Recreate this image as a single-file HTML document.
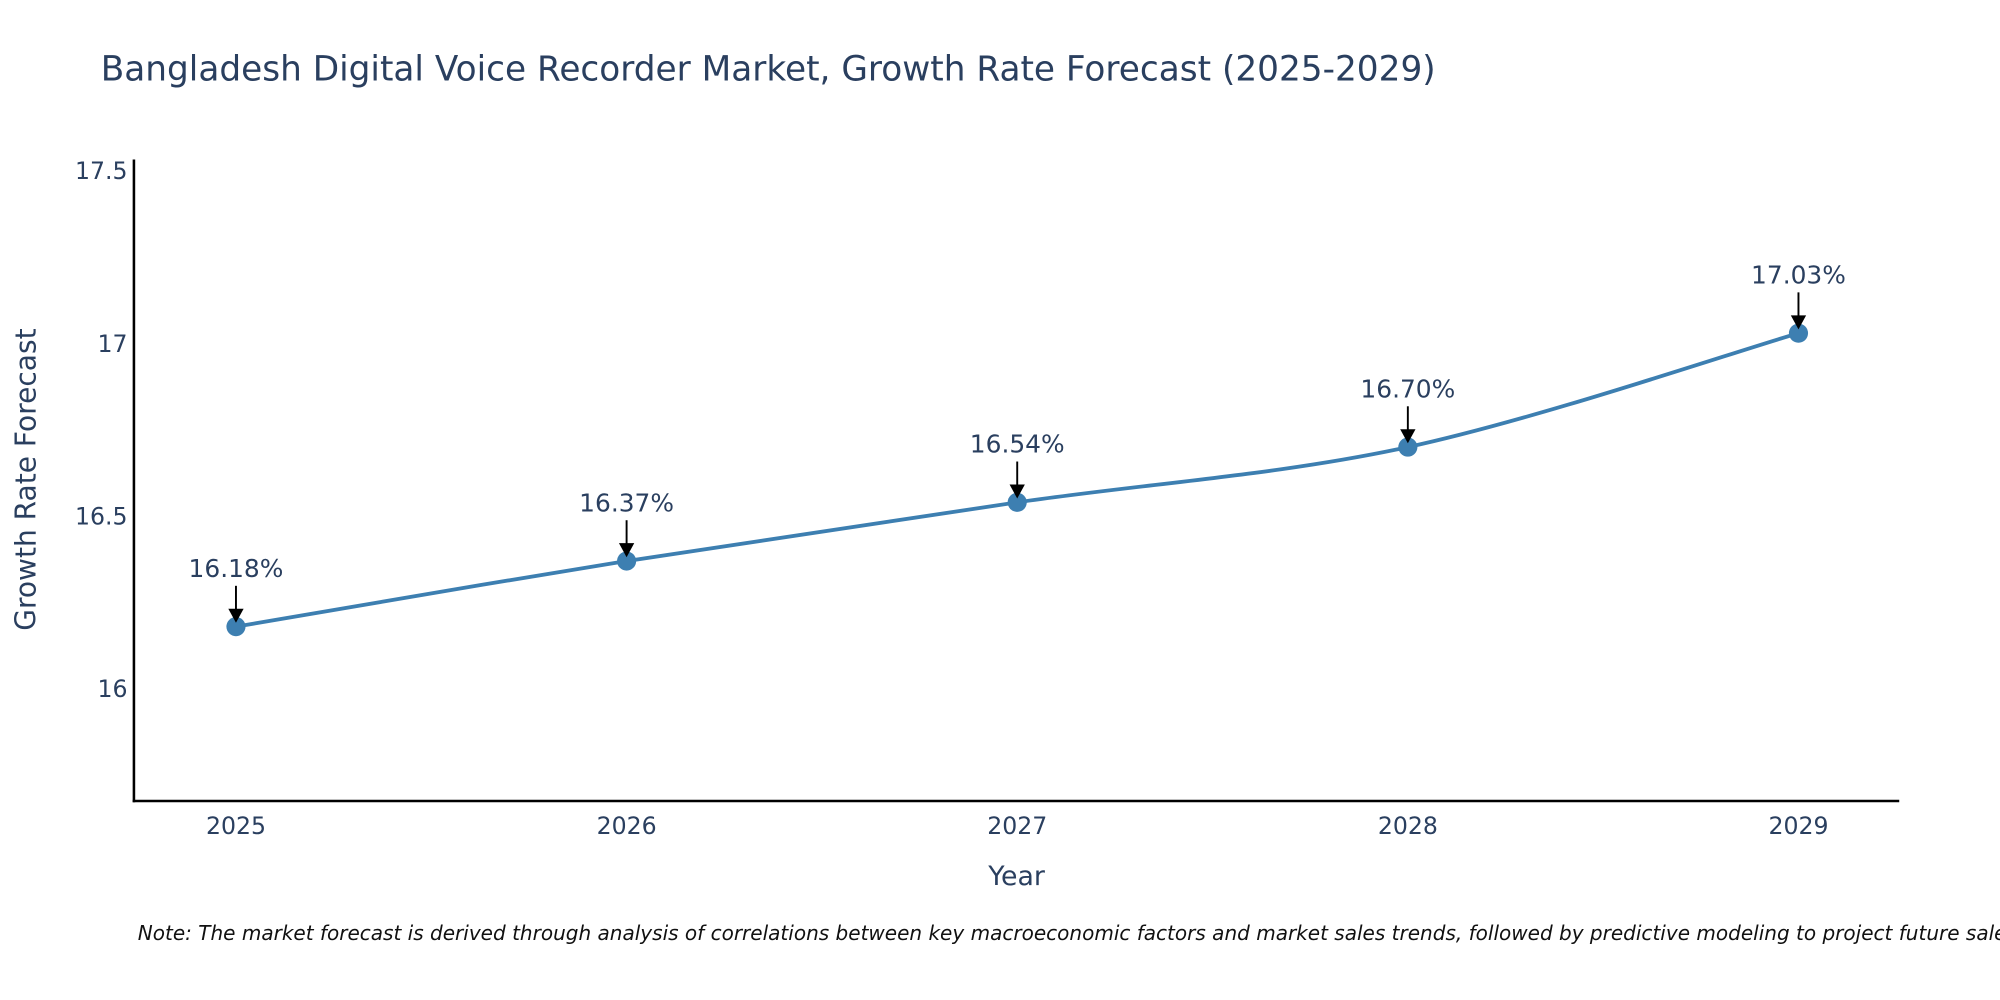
<!DOCTYPE html>
<html><head><meta charset="utf-8"><style>
html,body{margin:0;padding:0;background:#fff;}
svg{display:block;}
</style></head><body>
<svg id="chart" width="2000" height="1000" viewBox="0 0 1568 784" xmlns="http://www.w3.org/2000/svg" font-family="'DejaVu Sans','Liberation Sans',sans-serif">
<rect width="1568" height="784" fill="#fff"/>
<text x="79" y="63" font-size="26.9" fill="#2a3f5f">Bangladesh Digital Voice Recorder Market, Growth Rate Forecast (2025-2029)</text>
<g id="yticks"></g>
<g id="xticks"></g>
<line x1="105" y1="125" x2="105" y2="629" stroke="#000" stroke-width="2"/>
<line x1="104" y1="628" x2="1489" y2="628" stroke="#000" stroke-width="2"/>
<path id="series" fill="none" stroke="#3d7fb1" stroke-width="3"/>
<g id="points"></g>
<g id="annots"></g>
<text x="797" y="694" font-size="21" fill="#2a3f5f" text-anchor="middle">Year</text>
<text transform="translate(28,376) rotate(-90)" font-size="22" fill="#2a3f5f" text-anchor="middle">Growth Rate Forecast</text>
<text x="108" y="737" font-size="15.7" font-style="italic" fill="#111">Note: The market forecast is derived through analysis of correlations between key macroeconomic factors and market sales trends, followed by predictive modeling to project future sales.</text>
</svg>
<script>
const years = [2025, 2026, 2027, 2028, 2029];
const values = [16.18, 16.37, 16.54, 16.70, 17.03];
const labels = ["16.18%", "16.37%", "16.54%", "16.70%", "17.03%"];
const yTicks = [16, 16.5, 17, 17.5];
const yTickLabels = ["16", "16.5", "17", "17.5"];

const NS = "http://www.w3.org/2000/svg";
const xScale = v => 185 + (v - 2025) * 306.25;
const yScale = v => 540 - (v - 16) * 270.67;
function mk(tag, attrs, parent, text) {
  const e = document.createElementNS(NS, tag);
  for (const k in attrs) e.setAttribute(k, attrs[k]);
  if (text !== undefined) e.textContent = text;
  parent.appendChild(e);
  return e;
}
const yt = document.getElementById('yticks');
yTicks.forEach((t, i) => {
  const el = mk('text', {x: 100, y: yScale(t) + 6.5, 'font-size': 18.5, fill: '#2a3f5f', 'text-anchor': 'end'}, yt, yTickLabels[i]);
  
  
});
const xt = document.getElementById('xticks');
years.forEach(y => {
  const el = mk('text', {x: xScale(y), y: 654, 'font-size': 18.5, fill: '#2a3f5f', 'text-anchor': 'middle'}, xt, String(y));
  
  
});
const pts = years.map((y, i) => [xScale(y), yScale(values[i])]);
let d = `M${pts[0][0]},${pts[0][1]}`;
for (let i = 0; i < pts.length - 1; i++) {
  const p0 = pts[Math.max(0, i - 1)], p1 = pts[i], p2 = pts[i + 1], p3 = pts[Math.min(pts.length - 1, i + 2)];
  const t = 1 / 6;
  const c1 = [p1[0] + (p2[0] - p0[0]) * t, p1[1] + (p2[1] - p0[1]) * t];
  const c2 = [p2[0] - (p3[0] - p1[0]) * t, p2[1] - (p3[1] - p1[1]) * t];
  d += ` C${c1[0]},${c1[1]} ${c2[0]},${c2[1]} ${p2[0]},${p2[1]}`;
}
document.getElementById('series').setAttribute('d', d);
const pg = document.getElementById('points');
const ag = document.getElementById('annots');
pts.forEach((p, i) => {
  const c = mk('circle', {cx: p[0], cy: p[1], r: 7.5, fill: '#3d7fb1'}, pg);
  
  
  const l = mk('line', {x1: p[0], y1: p[1] - 32, x2: p[0], y2: p[1] - 12, stroke: '#000', 'stroke-width': 1.5}, ag);
  
  
  const h = mk('polygon', {points: `${p[0]-6},${p[1]-14} ${p[0]+6},${p[1]-14} ${p[0]},${p[1]-3}`, fill: '#000'}, ag);
  
  
  const tx = mk('text', {x: p[0], y: p[1] - 39, 'font-size': 19.5, fill: '#2a3f5f', 'text-anchor': 'middle'}, ag, labels[i]);
  
  
});
</script>
</body></html>
